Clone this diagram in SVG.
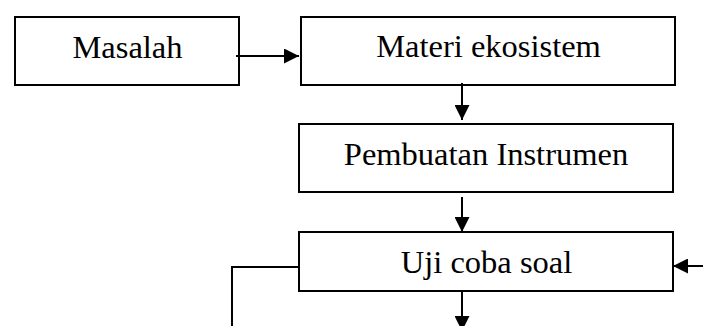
<svg xmlns="http://www.w3.org/2000/svg" width="703" height="326" viewBox="0 0 703 326">
<defs>
<marker id="ah" viewBox="0 0 10 10" refX="10" refY="5" markerWidth="7.5" markerHeight="7.5" markerUnits="strokeWidth" orient="auto">
<path d="M0,0 L10,5 L0,10 z" fill="#000"/>
</marker>
<style>
.box{fill:#fff;stroke:#000;stroke-width:2}
.lbl{font-family:"Liberation Serif","Times New Roman",serif;font-size:32.5px;fill:#000;text-anchor:middle}
.c{fill:none;stroke:#000;stroke-width:2}
</style>
</defs>
<g id="n-masalah"><rect class="box" x="15" y="17" width="224" height="68"/><text class="lbl" x="127.5" y="58">Masalah</text></g>
<g id="n-materi"><rect class="box" x="301" y="17" width="374" height="68"/><text class="lbl" x="488.5" y="57">Materi ekosistem</text></g>
<g id="n-pembuatan"><rect class="box" x="299" y="124" width="374" height="68"/><text class="lbl" x="486" y="165">Pembuatan Instrumen</text></g>
<g id="n-uji"><rect class="box" x="299" y="232" width="374" height="59"/><text class="lbl" x="486.5" y="273">Uji coba soal</text></g>
<g id="connectors">
<path class="c" d="M236,56 H299" marker-end="url(#ah)"/>
<path class="c" d="M462,83 V120" marker-end="url(#ah)"/>
<path class="c" d="M462,197 V232" marker-end="url(#ah)"/>
<path class="c" d="M298,267 H232 V326"/>
<path class="c" d="M703,266 H673" marker-end="url(#ah)"/>
<path class="c" d="M462,291 V331" marker-end="url(#ah)"/>
</g>
</svg>
